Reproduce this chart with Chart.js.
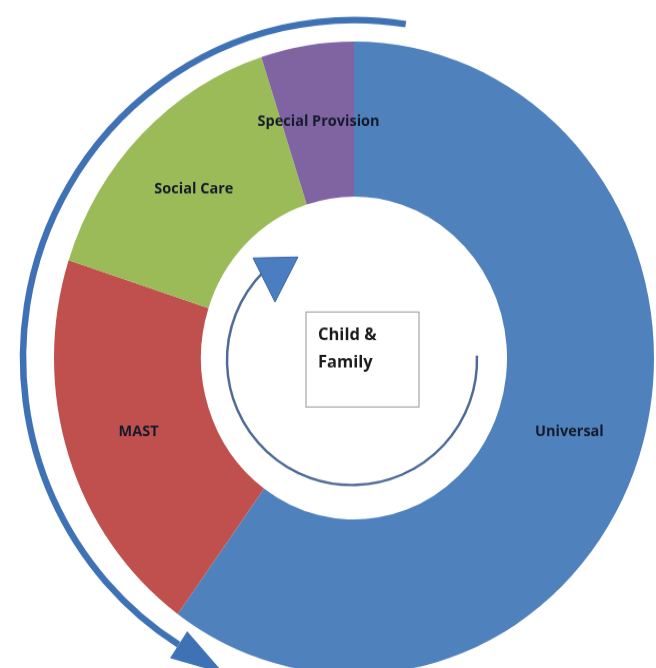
<!DOCTYPE html>
<html>
<head>
<meta charset="utf-8">
<script src="https://cdn.jsdelivr.net/npm/chart.js@4.4.0/dist/chart.umd.min.js"></script>
<style>
  html, body { margin: 0; padding: 0; background: #fff; overflow: hidden; }
  /* the original picture is a little taller than wide, so stretch the canvas round the ring centre */
  #wrap { position: absolute; left: 0; top: 0; width: 656px; height: 668px; transform: scaleY(1.055); transform-origin: 0 358px; }
</style>
</head>
<body>
<div id="wrap"><canvas id="chart"></canvas></div>
<script>
const categories = ['Universal', 'MAST', 'Social Care', 'Special Provision'];
const shares = [60, 20, 15, 5];
const sliceColors = ['#4F81BD', '#C0504D', '#9BBB59', '#8064A2'];
const centreLines = ['Child &', 'Family'];

const STRETCH = 1.055;
const deg = Math.PI / 180;

// Slice names, at the middle of each slice (like Excel does it)
const sliceLabels = {
  id: 'sliceLabels',
  afterDatasetsDraw(chart) {
    const ctx = chart.ctx;
    const meta = chart.getDatasetMeta(0);
    ctx.save();
    ctx.font = 'bold 14.5px "Open Sans"';
    ctx.fillStyle = '#141a2a';
    ctx.textAlign = 'center';
    ctx.textBaseline = 'middle';
    meta.data.forEach((arc, i) => {
      const p = arc.getCenterPoint();
      ctx.save();
      ctx.translate(p.x, p.y);
      ctx.scale(1, 1 / STRETCH);
      ctx.fillText(categories[i], 0, 0);
      ctx.restore();
    });
    ctx.restore();
  }
};

// Arrows and the little box in the middle
const decor = {
  id: 'decor',
  afterDatasetsDraw(chart) {
    const arc = chart.getDatasetMeta(0).data[0];
    if (!arc) return;
    const k = arc.outerRadius / 300;
    const ctx = chart.ctx;
    ctx.save();
    ctx.translate(arc.x, arc.y);
    ctx.scale(k, k / STRETCH);

    // big arrow sweeping round the left side
    const rx = 331, ry = 338;
    ctx.strokeStyle = '#3F72B5';
    ctx.fillStyle = '#3F72B5';
    ctx.lineWidth = 6.5;
    ctx.beginPath();
    ctx.ellipse(0, 0, rx, ry, 0, (9 - 90) * deg, (212 - 90) * deg, true);
    ctx.stroke();

    const t = 212 * deg;
    const bx = rx * Math.sin(t), by = -ry * Math.cos(t);
    let dx = -rx * Math.cos(t), dy = -ry * Math.sin(t);
    const len = Math.hypot(dx, dy);
    dx /= len; dy /= len;
    ctx.beginPath();
    ctx.moveTo(bx + 54 * dx, by + 54 * dy);
    ctx.lineTo(bx - 16 * dy, by + 16 * dx);
    ctx.lineTo(bx + 16 * dy, by - 16 * dx);
    ctx.closePath();
    ctx.fill();

    // thin circular arrow inside the hole
    ctx.strokeStyle = '#4F6B96';
    ctx.lineWidth = 2.5;
    ctx.beginPath();
    ctx.ellipse(-2, 2, 125, 125, 0, (88 - 90) * deg, (315 - 90) * deg, false);
    ctx.stroke();

    ctx.fillStyle = '#4A7EC0';
    ctx.strokeStyle = '#3A64A0';
    ctx.lineWidth = 1;
    ctx.beginPath();
    ctx.moveTo(-101, -100);
    ctx.lineTo(-56, -101);
    ctx.lineTo(-79, -56);
    ctx.closePath();
    ctx.fill();
    ctx.stroke();

    // text box
    ctx.strokeStyle = '#A6A6A6';
    ctx.lineWidth = 1.2;
    ctx.strokeRect(-48, -46, 113, 95);
    ctx.fillStyle = '#1b1b1b';
    ctx.font = 'bold 16.5px "Open Sans"';
    ctx.textAlign = 'left';
    ctx.textBaseline = 'alphabetic';
    ctx.fillText(centreLines[0], -36, -18);
    ctx.fillText(centreLines[1], -36, 10);

    ctx.restore();
  }
};

new Chart(document.getElementById('chart'), {
  type: 'doughnut',
  data: {
    labels: categories,
    datasets: [{
      data: shares,
      backgroundColor: sliceColors,
      borderWidth: 0
    }]
  },
  options: {
    responsive: true,
    maintainAspectRatio: false,
    animation: false,
    cutout: '51%',
    layout: { padding: { left: 54, right: 2, top: 58, bottom: 10 } },
    plugins: {
      legend: { display: false },
      tooltip: { enabled: false }
    }
  },
  plugins: [sliceLabels, decor]
});
</script>
</body>
</html>
